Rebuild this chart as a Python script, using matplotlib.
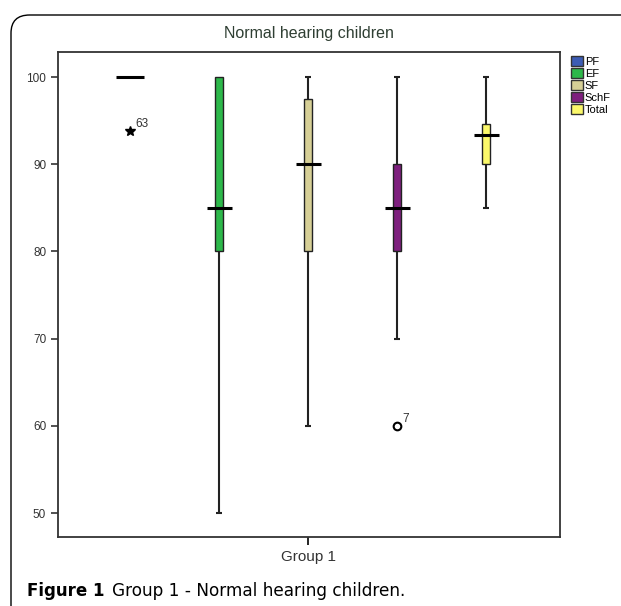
import matplotlib
matplotlib.use("Agg")
import matplotlib.pyplot as plt
from matplotlib.patches import FancyBboxPatch, Patch

# box statistics
groups = ["PF", "EF", "SF", "SchF", "Total"]
colors = ["#3c5cb4", "#2db84a", "#d6cf96", "#7e1f7e", "#fbf86a"]
positions = [1, 2, 3, 4, 5]
q1 = [100, 80, 80, 80, 90]
med = [100, 85, 90, 85, 93.3]
q3 = [100, 100, 97.5, 90, 94.6]
whislo = [100, 50, 60, 70, 85]
whishi = [100, 100, 100, 100, 100]

# outliers: (position, value, case label, marker)
out_pos = [1, 4]
out_val = [93.8, 60]
out_lab = ["63", "7"]
out_mark = ["*", "o"]

plt.rcParams['font.family'] = ['Liberation Sans', 'DejaVu Sans']

fig = plt.figure(figsize=(6.21, 6.06), dpi=100)

# rounded frame around the figure panel
frame = FancyBboxPatch((11 / 621, -0.1), 1.2, (606 - 15) / 606 + 0.1,
                       boxstyle="round,pad=0,rounding_size=0.03",
                       transform=fig.transFigure, fill=False,
                       edgecolor="black", linewidth=1.0)
fig.add_artist(frame)

ax = fig.add_axes([58 / 621, 69 / 606, 502 / 621, 485 / 606])

box_w = 0.09
for i in range(len(groups)):
    x = positions[i]
    # whiskers
    if whishi[i] > q3[i]:
        ax.vlines(x, q3[i], whishi[i], color="#222222", lw=1.5, zorder=2)
        ax.hlines(whishi[i], x - 0.035, x + 0.035, color="#222222", lw=1.5, zorder=2)
    if whislo[i] < q1[i]:
        ax.vlines(x, whislo[i], q1[i], color="#222222", lw=1.5, zorder=2)
        ax.hlines(whislo[i], x - 0.035, x + 0.035, color="#222222", lw=1.5, zorder=2)
    # box
    if q3[i] > q1[i]:
        ax.bar(x, q3[i] - q1[i], bottom=q1[i], width=box_w, color=colors[i],
               edgecolor="#222222", linewidth=1.0, zorder=3)
    # median
    mw = 0.16 if i == 0 else 0.14
    ax.hlines(med[i], x - mw, x + mw, color="black", lw=2.2, zorder=4)

for p, v, lab, m in zip(out_pos, out_val, out_lab, out_mark):
    if m == "o":
        ax.plot(p, v, marker="o", ms=5.5, mfc="white", mec="black", mew=1.5, zorder=5)
    else:
        ax.plot(p, v, marker="*", ms=7, color="black", zorder=5)
    ax.annotate(lab, (p, v), xytext=(4, 3), textcoords="offset points",
                fontsize=8.5, color="#333333")

ax.set_xlim(0.19, 5.83)
ax.set_ylim(47.25, 102.87)
ax.set_yticks([50, 60, 70, 80, 90, 100])
ax.set_xticks([3])
ax.set_xticklabels(["Group 1"], fontsize=11, color="#333333")
ax.tick_params(axis="y", labelsize=8.5, colors="#333333", length=5, width=1.2)
ax.tick_params(axis="x", length=6, width=1.2, pad=3)
for s in ax.spines.values():
    s.set_linewidth(1.3)
    s.set_color("#333333")

ax.set_title("Normal hearing children", fontsize=11.5, color="#2f3f33", pad=10)

handles = [Patch(facecolor=c, edgecolor="#333333", label=g) for g, c in zip(groups, colors)]
fig.legend(handles=handles, loc="upper left", bbox_to_anchor=(567 / 621, 1 - 52 / 606),
           frameon=False, fontsize=8, handlelength=1.0, handleheight=1.0,
           handletextpad=0.2, labelspacing=0.1, borderaxespad=0)

# caption: bold prefix then normal text
t1 = fig.text(27 / 621, 1 - 591 / 606, "Figure 1", fontsize=12, fontweight="bold",
              va="center", ha="left", family="DejaVu Sans")
fig.canvas.draw()
bb = t1.get_window_extent()
fig.text((bb.x1 + 8) / 621, 1 - 591 / 606, "Group 1 - Normal hearing children.",
         fontsize=12.2, va="center", ha="left", family="DejaVu Sans")

fig.savefig("out.png", dpi=100)
